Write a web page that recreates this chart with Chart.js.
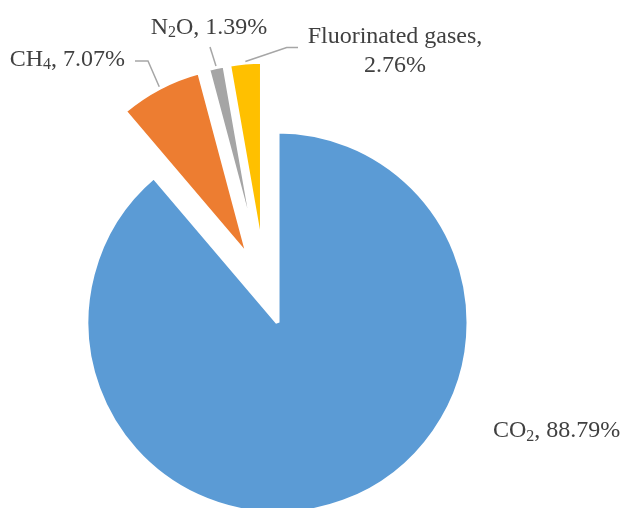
<!DOCTYPE html>
<html>
<head>
<meta charset="utf-8">
<script src="https://cdn.jsdelivr.net/npm/chart.js@4.4.1/dist/chart.umd.min.js"></script>
<style>
  html, body { margin: 0; padding: 0; background: #ffffff; }
  #wrap { width: 624px; height: 508px; position: relative; }
</style>
</head>
<body>
<div id="wrap"><canvas id="c" width="624" height="508"></canvas></div>
<script>
// Greenhouse gas shares (%)
const gases = ['CO2', 'CH4', 'N2O', 'Fluorinated gases'];
const shares = [88.79, 7.07, 1.39, 2.76];

// Styling
const sliceColors = ['#5B9BD5', '#ED7D31', '#A5A5A5', '#FFC000'];
const explodeBy = [36, 36, 36, 36];          // px each slice is pulled out along its bisector
const pieCenter = { x: 265.1, y: 288.7 };
const pieRadius = 191;
const textColor = '#404040';
const leaderColor = '#A6A6A6';
const FONT = '"Liberation Serif", "Times New Roman", serif';

// Where each label sits, plus the bend points of its leader line (label side first)
const labelLayout = [
  { x: 493, y: 437,  align: 'left',   wrap: false, leader: null },
  { x: 125, y: 65.5, align: 'right',  wrap: false, leader: [[135, 61], [148, 61]] },
  { x: 209, y: 33.5, align: 'center', wrap: false, leader: [[210, 47]] },
  { x: 395, y: 43,   align: 'center', wrap: true,  leader: [[298, 47.5], [286.7, 47.5]] }
];

// Split a chemical name into runs; digits that follow a letter become subscripts
function nameRuns(name) {
  const runs = [];
  name.split(/(\d+)/).forEach((part, k) => {
    if (part) runs.push({ t: part, sub: k % 2 === 1 });
  });
  return runs;
}

function drawRuns(ctx, runs, x, y, align) {
  let total = 0;
  runs.forEach(r => {
    ctx.font = (r.sub ? '16px ' : '24px ') + FONT;
    r.w = ctx.measureText(r.t).width;
    total += r.w;
  });
  let cx = align === 'left' ? x : align === 'right' ? x - total : x - total / 2;
  ctx.textAlign = 'left';
  ctx.textBaseline = 'alphabetic';
  runs.forEach(r => {
    ctx.font = (r.sub ? '16px ' : '24px ') + FONT;
    ctx.fillText(r.t, cx, r.sub ? y + 3.5 : y);
    cx += r.w;
  });
}

// Pull slices away from the center along their mid angle
const explodePlugin = {
  id: 'explodeSlices',
  afterDatasetsUpdate(chart) {
    chart.getDatasetMeta(0).data.forEach((arc, i) => {
      const mid = (arc.startAngle + arc.endAngle) / 2;
      const d = explodeBy[i] || 0;
      arc.x += Math.cos(mid) * d;
      arc.y += Math.sin(mid) * d;
    });
  }
};

// Category / value labels with leader lines
const labelPlugin = {
  id: 'sliceLabels',
  afterDatasetsDraw(chart) {
    const ctx = chart.ctx;
    const arcs = chart.getDatasetMeta(0).data;
    ctx.save();
    arcs.forEach((arc, i) => {
      const lay = labelLayout[i];
      const mid = (arc.startAngle + arc.endAngle) / 2;
      const r = arc.outerRadius + 1;
      const ax = arc.x + Math.cos(mid) * r;
      const ay = arc.y + Math.sin(mid) * r;
      if (lay.leader) {
        ctx.beginPath();
        ctx.strokeStyle = leaderColor;
        ctx.lineWidth = 1.5;
        ctx.moveTo(lay.leader[0][0], lay.leader[0][1]);
        for (let k = 1; k < lay.leader.length; k++) ctx.lineTo(lay.leader[k][0], lay.leader[k][1]);
        ctx.lineTo(ax, ay);
        ctx.stroke();
      }
      const pct = shares[i].toFixed(2) + '%';
      ctx.fillStyle = textColor;
      if (lay.wrap) {
        drawRuns(ctx, nameRuns(gases[i]).concat([{ t: ',', sub: false }]), lay.x, lay.y, lay.align);
        drawRuns(ctx, [{ t: pct, sub: false }], lay.x, lay.y + 28.5, lay.align);
      } else {
        drawRuns(ctx, nameRuns(gases[i]).concat([{ t: ', ' + pct, sub: false }]), lay.x, lay.y, lay.align);
      }
    });
    ctx.restore();
  }
};

new Chart(document.getElementById('c'), {
  type: 'pie',
  data: {
    labels: gases,
    datasets: [{
      data: shares,
      backgroundColor: sliceColors,
      borderColor: '#ffffff',
      borderWidth: 4,
      clip: false
    }]
  },
  options: {
    responsive: false,
    animation: false,
    events: [],
    radius: pieRadius,
    layout: {
      padding: {
        left: 0,
        right: 624 - 2 * pieCenter.x,
        top: 2 * pieCenter.y - 508,
        bottom: 0
      }
    },
    plugins: {
      legend: { display: false },
      tooltip: { enabled: false }
    }
  },
  plugins: [explodePlugin, labelPlugin]
});
</script>
</body>
</html>
